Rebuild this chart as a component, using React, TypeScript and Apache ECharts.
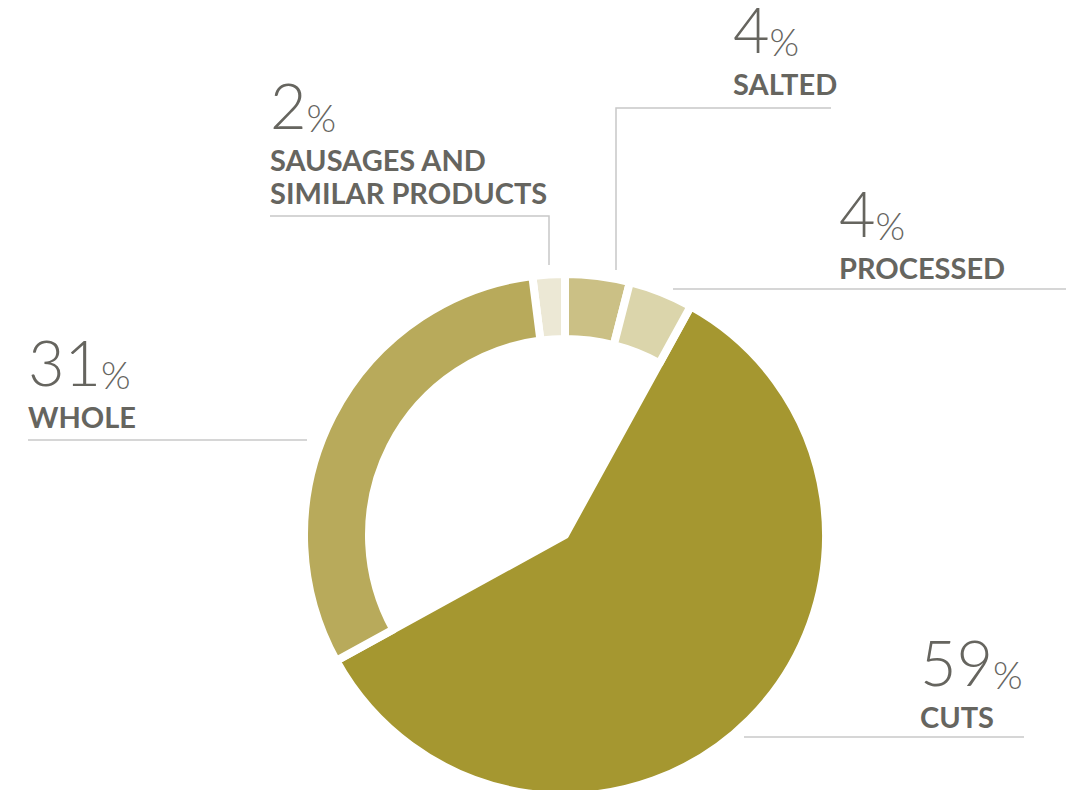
import React, { useEffect, useRef } from "react";
import * as echarts from "echarts";

const categories = ["SAUSAGES AND\nSIMILAR PRODUCTS", "SALTED", "PROCESSED", "CUTS", "WHOLE"];
const shares = [2, 4, 4, 59, 31];
const colors = ["#ECE8D5", "#CBC085", "#DBD5AB", "#A59730", "#B8AA5B"];

const TEXT = "#66655F";
const LINE = "#C8C8C8";
const NUM_FONT = "Lato";
const LAB_FONT = "Lato";

// label placements (layout only)
const labelPos = [
  { x: 270, y: 84, line: [[270, 216], [549, 216], [549, 265]] },
  { x: 733, y: 8, line: [[831, 108], [616, 108], [616, 270]] },
  { x: 839, y: 192, line: [[1066, 289], [673, 289]] },
  { x: 920, y: 641, line: [[1024, 737], [744, 737]] },
  { x: 28, y: 341, line: [[307, 440], [28, 440]] },
];

function buildGraphic() {
  const els: any[] = [];
  categories.forEach((name, i) => {
    const p = labelPos[i];
    els.push({
      type: "text",
      x: p.x,
      y: p.y + 8,
      silent: true,
      style: {
        text: `{n|${shares[i]}}{p|%}`,
        rich: {
          n: { fontFamily: NUM_FONT, fontWeight: 300, fontSize: 63, fill: TEXT, lineHeight: 44, verticalAlign: "bottom" },
          p: { fontFamily: NUM_FONT, fontWeight: 300, fontSize: 38, fill: TEXT, lineHeight: 44, verticalAlign: "bottom" },
        },
      },
    });
    els.push({
      type: "text",
      x: p.x,
      y: p.y + 59,
      silent: true,
      style: {
        text: name,
        fontFamily: LAB_FONT,
        fontWeight: "bold",
        fontSize: 29,
        lineHeight: 33,
        fill: TEXT,
      },
    });
    els.push({
      type: "polyline",
      silent: true,
      shape: { points: p.line },
      style: { stroke: LINE, lineWidth: 1.5, fill: null },
    });
  });
  return els;
}

export default function App() {
  const ref = useRef<HTMLDivElement>(null);
  useEffect(() => {
    if (!ref.current) return;
    const chart = echarts.init(ref.current, undefined, { renderer: "svg" });
    const ringData = categories.map((name, i) => ({
      name,
      value: shares[i],
      itemStyle:
        i === 3
          ? { color: "transparent", borderWidth: 0 }
          : { color: colors[i], borderColor: "#fff", borderWidth: 8 },
    }));
    const fullData = categories.map((name, i) => ({
      name,
      value: shares[i],
      itemStyle:
        i === 3
          ? { color: colors[i], borderColor: "#fff", borderWidth: 8 }
          : { color: "transparent", borderWidth: 0 },
    }));
    chart.setOption({
      animation: false,
      backgroundColor: "#fff",
      series: [
        {
          type: "pie",
          center: [565, 535],
          radius: [0, 261],
          startAngle: 97.2,
          clockwise: true,
          silent: true,
          label: { show: false },
          labelLine: { show: false },
          data: fullData,
        },
        {
          type: "pie",
          center: [565, 535],
          radius: [196, 261],
          startAngle: 97.2,
          clockwise: true,
          silent: true,
          label: { show: false },
          labelLine: { show: false },
          data: ringData,
        },
      ],
      graphic: buildGraphic(),
    });
    return () => chart.dispose();
  }, []);
  return (
    <div
      ref={ref}
      style={{ position: "fixed", left: 0, top: 0, width: 1066, height: 790 }}
    />
  );
}
